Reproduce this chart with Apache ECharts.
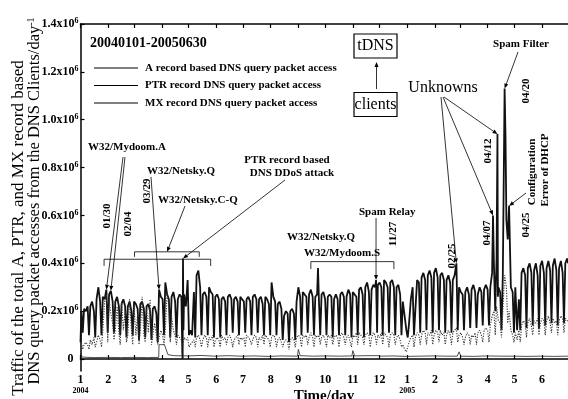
<!DOCTYPE html>
<html>
<head>
<meta charset="utf-8">
<script src="https://cdn.jsdelivr.net/npm/echarts@6/dist/echarts.min.js"></script>
<style>
  html, body { margin: 0; padding: 0; background: #fff; }
  #chart { width: 568px; height: 399px; }
</style>
</head>
<body>
<div id="chart"></div>
<script>
// x = day index, 0 = 2004-01-01 ... 546 = 2005-06-30; y in units of 10^6 packets/day
const monthStarts = [0, 31, 60, 91, 121, 152, 182, 213, 244, 274, 305, 335, 366, 397, 425, 456, 486, 517]
const monthLabels = ['1', '2', '3', '4', '5', '6', '7', '8', '9', '10', '11', '12', '1', '2', '3', '4', '5', '6']
const yearLabels = { 0: '2004', 366: '2005' }
const yTicks = [0, 0.2, 0.4, 0.6, 0.8, 1.0, 1.2, 1.4]
const seriesNames = ['A record based DNS query packet access', 'PTR record DNS query packet access', 'MX record DNS query packet access']

// weekly readings [Mon, Wed, Fri, weekend], week k starts Monday = day 7k+4
const ptrStart = [[0, 0.07], [1, 0.20], [2.5, 0.11]]
const ptrWeeks = [
  [0.21, 0.20, 0.22, 0.10], [0.22, 0.24, 0.20, 0.09], [0.25, 0.30, 0.24, 0.10], [0.26, 0.25, 0.29, 0.11],
  [0.27, 0.285, 0.24, 0.11], [0.24, 0.26, 0.22, 0.10], [0.23, 0.25, 0.22, 0.09], [0.22, 0.24, 0.20, 0.10],
  [0.24, 0.23, 0.21, 0.08], [0.23, 0.24, 0.21, 0.09], [0.22, 0.23, 0.20, 0.08], [0.21, 0.22, 0.19, 0.07],
  [0.29, 0.26, 0.25, 0.10], [0.32, 0.27, 0.25, 0.09], [0.26, 0.28, 0.24, 0.09], [0.25, 0.27, 0.26, null],
  [0.27, 0.22, 0.33, 0.10], [0.12, 0.10, 0.28, 0.09], [0.35, 0.37, 0.30, 0.10], [0.27, 0.28, 0.26, 0.10],
  [0.30, 0.28, 0.27, 0.09], [0.26, 0.27, 0.25, 0.09], [0.25, 0.26, 0.24, 0.10], [0.26, 0.27, 0.25, 0.11],
  [0.25, 0.26, 0.24, 0.10], [0.26, 0.25, 0.24, 0.11], [0.25, 0.26, 0.24, 0.10], [0.26, 0.27, 0.25, 0.11],
  [0.25, 0.26, 0.23, 0.10], [0.26, 0.25, 0.23, 0.10], [0.32, 0.26, 0.24, 0.10], [0.23, 0.24, 0.21, 0.08],
  [0.18, 0.20, 0.19, 0.07], [0.20, 0.21, 0.19, 0.08], [0.24, 0.30, 0.26, 0.10], [0.28, 0.27, 0.26, 0.11],
  [0.27, 0.29, 0.26, 0.10], [0.26, 0.27, 0.25, 0.10], [0.27, 0.28, 0.25, 0.10], [0.26, 0.27, 0.26, 0.09],
  [0.25, 0.27, 0.25, 0.10], [0.27, 0.28, 0.26, 0.10], [0.26, 0.29, 0.27, 0.09], [0.28, 0.27, 0.26, 0.10],
  [0.29, 0.30, 0.27, 0.09], [0.30, 0.32, 0.28, 0.10], [0.29, 0.31, 0.30, null], [0.31, 0.32, 0.30, 0.10],
  [0.33, 0.32, 0.30, 0.11], [0.32, 0.33, 0.30, 0.10], [0.30, 0.31, 0.27, 0.10], [0.24, 0.18, 0.12, 0.09],
  [0.15, 0.25, 0.30, 0.10], [0.20, 0.33, 0.32, 0.11], [0.34, 0.36, 0.33, 0.12], [0.35, 0.37, 0.34, 0.11],
  [0.36, 0.38, 0.34, 0.12], [0.35, 0.36, 0.33, 0.11], [0.33, 0.35, 0.32, 0.11], [0.33, 0.35, 0.40, 0.12],
  [0.30, 0.28, 0.27, 0.12], [0.28, 0.30, 0.27, 0.13], [0.29, 0.31, 0.28, 0.13], [0.27, 0.30, 0.28, 0.14],
  [0.29, 0.31, 0.29, 0.14], [0.30, 0.36, 0.40, 0.20], [0.42, 0.30, 0.28, 0.12], [0.35, 1.13, 0.58, 0.50],
  [0.64, 0.30, 0.28, 0.11], [0.30, 0.12, 0.25, 0.12], [0.36, 0.38, 0.35, 0.13], [0.38, 0.40, 0.36, 0.14],
  [0.37, 0.40, 0.35, 0.13], [0.39, 0.41, 0.36, 0.14], [0.38, 0.41, 0.37, 0.15], [0.39, 0.42, 0.37, 0.14],
  [0.38, 0.41, 0.36, 0.15], [0.40, 0.42, null, null]
]
// single-day spikes / drops
const ptrEvents = [[114, 0.03], [114.4, 0.0], [114.8, 0.42], [115.3, 0.12], [266, 0.38], [331, 0.33], [332.2, 0.11],
  [462, 0.60], [467, 0.94], [467.5, 0.26], [476, 0.93], [546, 0.40]]

const mxStart = [[0, 0.05], [1, 0.07], [2.5, 0.04]]
const mxWeeks = [
  [0.06, 0.07, 0.06, 0.04], [0.08, 0.06, 0.09, 0.05], [0.07, 0.10, 0.08, 0.05], [0.12, 0.24, 0.27, 0.07],
  [0.25, 0.19, 0.15, 0.08], [0.12, 0.22, 0.11, 0.06], [0.24, 0.12, 0.20, 0.07], [0.10, 0.25, 0.12, 0.06],
  [0.22, 0.10, 0.19, 0.06], [0.12, 0.26, 0.10, 0.07], [0.21, 0.11, 0.25, 0.06], [0.10, 0.15, 0.10, 0.06],
  [0.09, 0.12, 0.10, 0.06], [0.12, 0.28, 0.22, 0.07], [0.18, 0.12, 0.10, 0.06], [0.10, 0.09, 0.08, 0.05],
  [0.09, 0.08, 0.09, 0.05], [0.06, 0.06, 0.08, 0.05], [0.09, 0.10, 0.08, 0.05], [0.08, 0.10, 0.09, 0.05],
  [0.09, 0.08, 0.10, 0.05], [0.08, 0.09, 0.08, 0.05], [0.10, 0.08, 0.09, 0.06], [0.09, 0.10, 0.08, 0.05],
  [0.08, 0.09, 0.10, 0.06], [0.09, 0.08, 0.09, 0.05], [0.10, 0.09, 0.08, 0.06], [0.08, 0.10, 0.09, 0.05],
  [0.09, 0.08, 0.10, 0.06], [0.10, 0.09, 0.08, 0.05], [0.09, 0.10, 0.09, 0.05], [0.08, 0.09, 0.07, 0.05],
  [0.07, 0.08, 0.07, 0.04], [0.08, 0.09, 0.08, 0.05], [0.09, 0.10, 0.09, 0.05], [0.10, 0.09, 0.10, 0.06],
  [0.09, 0.11, 0.09, 0.05], [0.10, 0.09, 0.10, 0.06], [0.09, 0.10, 0.08, 0.05], [0.10, 0.09, 0.10, 0.06],
  [0.09, 0.10, 0.09, 0.05], [0.10, 0.11, 0.09, 0.06], [0.09, 0.10, 0.10, 0.05], [0.10, 0.09, 0.11, 0.06],
  [0.11, 0.10, 0.09, 0.06], [0.10, 0.11, 0.10, 0.05], [0.09, 0.11, 0.10, 0.06], [0.10, 0.09, 0.11, 0.06],
  [0.11, 0.10, 0.09, 0.05], [0.10, 0.11, 0.10, 0.06], [0.09, 0.10, 0.08, 0.05], [0.06, 0.04, 0.03, 0.03],
  [0.07, 0.09, 0.10, 0.05], [0.09, 0.11, 0.10, 0.06], [0.10, 0.12, 0.11, 0.06], [0.11, 0.10, 0.12, 0.06],
  [0.10, 0.12, 0.11, 0.07], [0.12, 0.10, 0.11, 0.06], [0.10, 0.12, 0.10, 0.06], [0.11, 0.12, 0.13, 0.07],
  [0.10, 0.11, 0.09, 0.06], [0.09, 0.11, 0.10, 0.06], [0.10, 0.09, 0.11, 0.06], [0.11, 0.12, 0.10, 0.07],
  [0.12, 0.13, 0.12, 0.07], [0.14, 0.18, 0.20, 0.10], [0.22, 0.16, 0.15, 0.09], [0.20, 0.35, 0.30, 0.15],
  [0.20, 0.12, 0.10, 0.07], [0.11, 0.08, 0.12, 0.07], [0.14, 0.16, 0.15, 0.09], [0.15, 0.17, 0.14, 0.10],
  [0.16, 0.15, 0.17, 0.10], [0.15, 0.17, 0.16, 0.10], [0.16, 0.18, 0.15, 0.11], [0.17, 0.15, 0.16, 0.10],
  [0.16, 0.18, 0.17, 0.11], [0.17, 0.16, null, null]
]
const mxEvents = [[546, 0.16]]

const aRecord = [[0, 0.024], [2, 0.008], [15, 0.006], [30, 0.007], [45, 0.006], [60, 0.007], [75, 0.006],
  [87.6, 0.007], [88, 0.06], [94, 0.06], [98, 0.018], [105, 0.014], [120, 0.013], [135, 0.015], [150, 0.012],
  [165, 0.014], [180, 0.012], [195, 0.013], [210, 0.011], [225, 0.013], [243, 0.012], [244, 0.04], [246, 0.014],
  [260, 0.012], [275, 0.013], [290, 0.012], [304, 0.013], [305, 0.035], [307, 0.013], [320, 0.014], [334, 0.014],
  [335, 0.022], [337, 0.012], [350, 0.013], [365, 0.011], [380, 0.012], [395, 0.013], [410, 0.012], [422, 0.012],
  [424, 0.03], [426, 0.012], [440, 0.011], [455, 0.013], [470, 0.012], [485, 0.012], [500, 0.011], [515, 0.012],
  [530, 0.011], [546, 0.012]]

function weekly (start, weeks, events) {
  let pts = start.slice()
  weeks.forEach((w, k) => {
    const mon = 7 * k + 4
    const days = [mon, mon + 2, mon + 4, mon + 5.5]
    days.forEach((d, i) => {
      if (d <= 546 && w[i] != null) pts.push([d, w[i]])
    })
  })
  pts = pts.concat(events)
  pts.sort((a, b) => a[0] - b[0])
  return pts
}

const FONT = '"Liberation Serif", "Times New Roman", serif'
const chart = echarts.init(document.getElementById('chart'))

chart.setOption({
  animation: false,
  backgroundColor: '#fff',
  textStyle: { fontFamily: FONT, color: '#000' },
  grid: { left: 80.5, right: -5, top: 24, bottom: 28 },
  xAxis: [{
    type: 'value',
    min: 0,
    max: 546,
    position: 'bottom',
    axisLine: { lineStyle: { color: '#000', width: 1.5 } },
    axisTick: { inside: true, length: 4, customValues: monthStarts, lineStyle: { color: '#000', width: 1.2 } },
    axisLabel: {
      customValues: monthStarts,
      margin: 3,
      formatter: function (v) {
        const m = monthLabels[monthStarts.indexOf(v)]
        if (yearLabels[v]) return '{m|' + m + '}\n{y|' + yearLabels[v] + '}'
        return '{m|' + m + '}'
      },
      rich: {
        m: { fontSize: 12, fontWeight: 'bold', fontFamily: FONT, color: '#000', lineHeight: 12 },
        y: { fontSize: 8, fontWeight: 'bold', fontFamily: FONT, color: '#000', lineHeight: 9 }
      }
    },
    splitLine: { show: false }
  }, {
    type: 'value',
    min: 0,
    max: 546,
    position: 'top',
    axisLine: { lineStyle: { color: '#000', width: 1.5 } },
    axisTick: { inside: true, length: 4, customValues: monthStarts, lineStyle: { color: '#000', width: 1.2 } },
    axisLabel: { show: false },
    splitLine: { show: false }
  }],
  yAxis: {
    type: 'value',
    min: -0.05,
    max: 1.4,
    axisLine: { show: true, lineStyle: { color: '#000', width: 1.5 } },
    axisTick: { inside: true, length: 4, customValues: yTicks, lineStyle: { color: '#000', width: 1.2 } },
    axisLabel: {
      customValues: yTicks,
      margin: 2,
      formatter: function (v) {
        if (v === 0) return '{z|0}'
        return '{b|' + v.toFixed(1) + 'x10}{s|6}'
      },
      rich: {
        b: { fontSize: 12, fontWeight: 'bold', fontFamily: FONT, color: '#000', lineHeight: 14 },
        s: { fontSize: 8, fontWeight: 'bold', fontFamily: FONT, color: '#000', verticalAlign: 'top' },
        z: { fontSize: 12, fontWeight: 'bold', fontFamily: FONT, color: '#000', padding: [0, 5, 0, 0] }
      }
    },
    splitLine: { show: false }
  },
  series: [{
    name: seriesNames[1],
    type: 'line',
    showSymbol: false,
    z: 2,
    lineStyle: { color: '#111', width: 1.8 },
    data: weekly(ptrStart, ptrWeeks, ptrEvents)
  }, {
    name: seriesNames[2],
    type: 'line',
    showSymbol: false,
    z: 3,
    lineStyle: { color: '#333', width: 1.1, type: [1.2, 1.4] },
    data: weekly(mxStart, mxWeeks, mxEvents)
  }, {
    name: seriesNames[0],
    type: 'line',
    showSymbol: false,
    z: 4,
    lineStyle: { color: '#222', width: 0.8 },
    data: aRecord
  }]
})

// ---- annotations ----
function px (d, v) {
  return chart.convertToPixel({ xAxisIndex: 0, yAxisIndex: 0 }, [d, v])
}
function arrow (x1, y1, tip) {
  const x2 = tip[0]
  const y2 = tip[1]
  const dx = x2 - x1
  const dy = y2 - y1
  const len = Math.sqrt(dx * dx + dy * dy)
  const ux = dx / len
  const uy = dy / len
  const bx = x2 - ux * 5
  const by = y2 - uy * 5
  return [
    { type: 'line', z: 50, shape: { x1: x1, y1: y1, x2: bx, y2: by }, style: { stroke: '#000', lineWidth: 0.8 } },
    { type: 'polygon', z: 50, shape: { points: [[x2, y2], [bx - uy * 2, by + ux * 2], [bx + uy * 2, by - ux * 2]] }, style: { fill: '#000' } }
  ]
}
function txt (x, y, s, opt) {
  opt = opt || {}
  return {
    type: 'text',
    z: 50,
    x: x,
    y: y,
    rotation: opt.rot ? Math.PI / 2 : 0,
    style: {
      text: s,
      fontFamily: FONT,
      fontSize: opt.size || 11,
      fontWeight: opt.normal ? 'normal' : 'bold',
      fill: '#000',
      align: opt.align || 'center',
      verticalAlign: 'middle',
      rich: opt.rich
    }
  }
}
function bracket (d1, d2, level, tick) {
  const a = px(d1, tick)
  const b = px(d1, level)
  const c = px(d2, level)
  const e = px(d2, tick)
  return { type: 'polyline', z: 50, shape: { points: [a, b, c, e] }, style: { stroke: '#000', lineWidth: 0.8, fill: null } }
}

const g = []
// axis titles
g.push(txt(19, 228, 'Traffic of the total A, PTR, and MX record based', { rot: true, size: 17, normal: true }))
g.push(txt(35, 201, 'DNS query packet accesses from the DNS Clients/day{s|-1}', {
  rot: true, size: 16.5, normal: true, rich: { s: { fontSize: 10, fontFamily: FONT, verticalAlign: 'top' } }
}))
g.push(txt(324, 396, 'Time/day', { size: 15 }))
// period + legend
g.push(txt(90, 43, '20040101-20050630', { size: 14, align: 'left' }))
const legendY = [68, 85.5, 103]
seriesNames.forEach((n, i) => {
  g.push({ type: 'line', z: 50, shape: { x1: 94, y1: legendY[i], x2: 138, y2: legendY[i] }, style: { stroke: '#000', lineWidth: 1 } })
  g.push(txt(145, legendY[i], n, { align: 'left' }))
})
// tDNS <- clients
g.push({ type: 'rect', z: 50, shape: { x: 354, y: 34, width: 43, height: 24 }, style: { stroke: '#000', lineWidth: 1.2, fill: '#fff' } })
g.push(txt(375.5, 46, 'tDNS', { size: 16, normal: true }))
g.push({ type: 'rect', z: 50, shape: { x: 354, y: 92.5, width: 43, height: 24 }, style: { stroke: '#000', lineWidth: 1.2, fill: '#fff' } })
g.push(txt(375.5, 104.5, 'clients', { size: 16, normal: true }))
g.push(...arrow(376.5, 89, [376.5, 62]))

// 2004 events
g.push(txt(88, 147, 'W32/Mydoom.A', { align: 'left' }))
g.push(...arrow(123, 157, px(29, 0.29)))
g.push(...arrow(125, 157, px(34, 0.285)))
g.push(txt(107, 216, '01/30', { rot: true }))
g.push(txt(128, 224, '02/04', { rot: true }))
g.push(txt(147, 171, 'W32/Netsky.Q', { align: 'left' }))
g.push(...arrow(151, 177, px(88, 0.29)))
g.push(txt(147, 191, '03/29', { rot: true }))
g.push(txt(158, 200, 'W32/Netsky.C-Q', { align: 'left' }))
g.push(...arrow(185, 206, px(97, 0.448)))
g.push(bracket(26.4, 145.8, 0.417, 0.389))
g.push(bracket(60.5, 133, 0.448, 0.427))
g.push(txt(287, 160, 'PTR record based'))
g.push(txt(292, 173, 'DNS DDoS attack'))
g.push(...arrow(285, 180, px(114.8, 0.42)))
g.push(txt(287, 237, 'W32/Netsky.Q', { align: 'left' }))
g.push(txt(304, 253, 'W32/Mydoom.S', { align: 'left' }))
g.push(bracket(258, 351, 0.407, 0.376))
const relay = px(331, 0.33)
g.push(txt(359, 212, 'Spam Relay', { align: 'left' }))
g.push(...arrow(relay[0], 218, relay))
g.push(txt(393, 234, '11/27', { rot: true }))

// 2005 events
g.push(txt(443, 88, 'Unknowns', { size: 16, normal: true }))
g.push(...arrow(441, 97, px(421, 0.40)))
g.push(...arrow(443, 97, px(462, 0.60)))
g.push(...arrow(444, 97, px(467, 0.94)))
g.push(txt(452, 256, '02/25', { rot: true }))
g.push(txt(487.5, 233, '04/07', { rot: true }))
g.push(txt(488, 151, '04/12', { rot: true }))
g.push(txt(521, 44, 'Spam Filter'))
g.push(...arrow(518, 52, px(475, 1.13)))
g.push(txt(526, 91, '04/20', { rot: true }))
g.push(txt(532, 172, 'Configuration', { rot: true }))
g.push(txt(545, 170, 'Error of DHCP', { rot: true }))
g.push(...arrow(526, 193, px(480, 0.64)))
g.push(txt(526, 225, '04/25', { rot: true }))

chart.setOption({ graphic: g })
</script>
</body>
</html>
